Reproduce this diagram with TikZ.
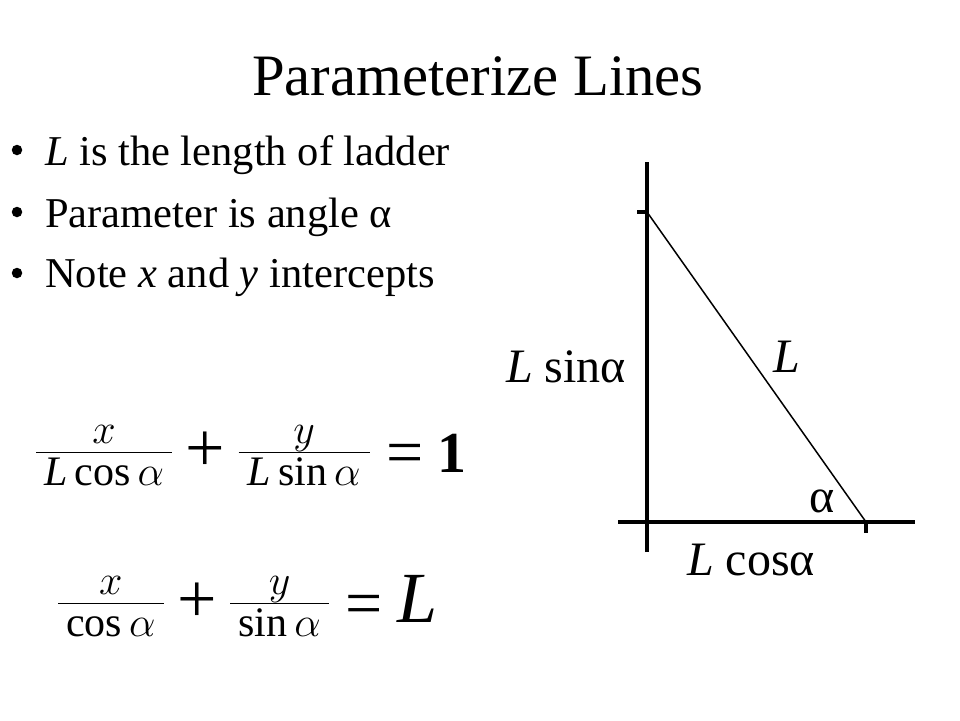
\RequirePackage{fix-cm}
\documentclass[tikz,border=0pt]{standalone}
\usepackage{fontspec}
\setmainfont{Liberation Serif}
\DeclareMathSizes{56}{56}{42}{32}
\tikzset{
  titletext/.style={font=\fontsize{58.7}{70}\selectfont, anchor=base, inner sep=0pt},
  bullettext/.style={font=\fontsize{42.5}{50}\selectfont, anchor=base west, inner sep=0pt},
  bulletdot/.style={circle, fill=black, minimum size=10.5pt, inner sep=0pt},
  lbl/.style={font=\fontsize{48}{56}\selectfont, anchor=base, inner sep=0pt},
  axisline/.style={line width=3.2pt},
  ladderline/.style={line width=1.5pt},
  eqtext/.style={font=\fontsize{56}{66}\selectfont, anchor=base west, inner sep=0pt},
}
\newcommand{\padded}[2]{\hspace{#1}#2\hspace{#1}}
\newcommand{\tplus}{\mathbin{\vcenter{\hbox{\fontsize{70}{70}\selectfont +}}}}
\newcommand{\tequal}{\mathrel{\raisebox{-8pt}{\fontsize{66}{66}\selectfont =}}}
\begin{document}
\begin{tikzpicture}[x=1pt,y=-1pt]
\useasboundingbox[fill=white] (0,0) rectangle (960,720);
% title
\node[titletext] (title) at (478,95) {Parameterize Lines};
% bullets
\node[bulletdot] (d1) at (17,150) {};
\node[bulletdot] (d2) at (17,212) {};
\node[bulletdot] (d3) at (17,273) {};
\node[bullettext] (t1) at (45,165) {\textit{L} is the length of ladder};
\node[bullettext] (t2) at (45,227) {Parameter is angle α};
\node[bullettext] (t3) at (45,287) {Note \textit{x} and \textit{y} intercepts};
% diagram
\coordinate (ytop) at (647,162);
\coordinate (ybot) at (647,552);
\coordinate (xl) at (618,522);
\coordinate (xr) at (915,522);
\coordinate (A) at (647,212);
\coordinate (At) at (637,212);
\coordinate (B) at (866,522);
\coordinate (Bt) at (866,533);
\draw[axisline] (ybot) -- (ytop);
\draw[axisline] (xl) -- (xr);
\draw[ladderline] (A) -- (B);
\draw[axisline] (At) -- (A);
\draw[axisline] (B) -- (Bt);
\node[lbl] (lsin) at (566,382) {\textit{L} sinα};
\node[lbl] (lL) at (787,372) {\textit{L}};
\node[lbl] (la) at (822,512) {α};
\node[lbl] (lcos) at (751,575) {\textit{L} cosα};
% equations
\node[eqtext] (eq1) at (34.8,466) {$\frac{x}{\padded{8pt}{\mathit{L}\cos\alpha}}\tplus\frac{y}{\padded{9pt}{\mathit{L}\sin\alpha}}\tequal$\hspace{14pt}\raisebox{-6pt}{\fontsize{58}{64}\selectfont\bfseries 1}};
\node[eqtext] (eq2) at (56.8,617) {$\frac{x}{\padded{8pt}{\cos\alpha}}\tplus\frac{y}{\padded{8pt}{\sin\alpha}}\tequal$\hspace{15pt}\raisebox{-5pt}{\fontsize{72}{80}\selectfont\itshape L}};
\end{tikzpicture}
\end{document}
